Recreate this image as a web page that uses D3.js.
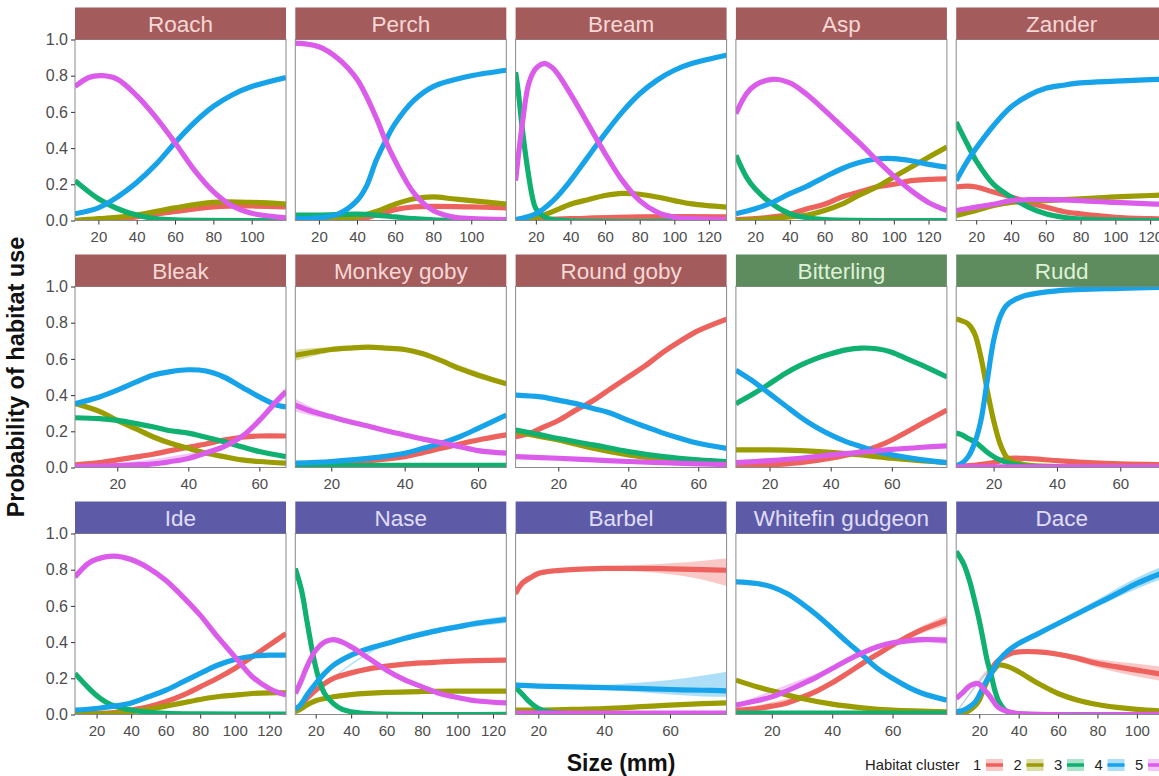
<!DOCTYPE html>
<html>
<head>
<meta charset="utf-8">
<script src="https://cdn.jsdelivr.net/npm/d3@7"></script>
<style>
  html, body { margin: 0; padding: 0; background: #fff; overflow: hidden; }
  svg { display: block; font-family: "Liberation Sans", Arial, Helvetica, sans-serif; }
</style>
</head>
<body>
<svg id="chart" width="1180" height="776"></svg>
<script>
// ---- Data: predicted probability of habitat use by body size ----
// Each species holds five curves (habitat clusters 1..5), each a list of [size mm, probability].

const speciesNames = ["Roach", "Perch", "Bream", "Asp", "Zander",
  "Bleak", "Monkey goby", "Round goby", "Bitterling", "Rudd",
  "Ide", "Nase", "Barbel", "Whitefin gudgeon", "Dace"];

// strip group of each species (1 = red, 2 = green, 3 = purple)
const speciesGroup = [1, 1, 1, 1, 1, 1, 1, 1, 2, 2, 3, 3, 3, 3, 3];

const sizeRanges = [
  [7.8, 117.9], [7.6, 118.4], [8.3, 130.2], [8.9, 130.6], [8.5, 129.8],
  [8.1, 67.5], [10.2, 67.7], [7.8, 68.1], [9, 78], [8.2, 74.8],
  [7.5, 129.7], [8.5, 127.5], [13.1, 77.2], [8.1, 78], [8.3, 115.4]
];

const sizeTicks = [
  [20, 40, 60, 80, 100], [20, 40, 60, 80, 100], [20, 40, 60, 80, 100, 120],
  [20, 40, 60, 80, 100, 120], [20, 40, 60, 80, 100, 120],
  [20, 40, 60], [20, 40, 60], [20, 40, 60], [20, 40, 60], [20, 40, 60],
  [20, 40, 60, 80, 100, 120], [20, 40, 60, 80, 100, 120],
  [20, 40, 60], [20, 40, 60], [20, 40, 60, 80, 100]
];

const probTicks = [0, 0.2, 0.4, 0.6, 0.8, 1.0];
const clusterLabels = ["1", "2", "3", "4", "5"];

const roach = [
  [[7.8,0],[20,0.005],[40,0.02],[60,0.05],[80,0.075],[100,0.08],[117.9,0.075]],
  [[7.8,0],[20,0.01],[40,0.03],[60,0.07],[80,0.1],[100,0.1],[117.9,0.09]],
  [[7.8,0.22],[20,0.12],[30,0.065],[40,0.03],[50,0.01],[60,0.003],[117.9,0]],
  [[7.8,0.037],[20,0.07],[30,0.13],[40,0.21],[50,0.31],[60,0.43],[70,0.54],[80,0.63],[90,0.695],[100,0.74],[117.9,0.79]],
  [[7.8,0.74],[15,0.79],[22,0.80],[30,0.78],[40,0.69],[50,0.57],[60,0.43],[70,0.28],[80,0.16],[90,0.08],[100,0.04],[117.9,0.015]]
];

const perch = [
  [[7.6,0],[40,0.005],[50,0.03],[60,0.06],[70,0.075],[80,0.078],[100,0.075],[118.4,0.07]],
  [[7.6,0],[30,0.005],[40,0.02],[50,0.05],[60,0.09],[70,0.12],[80,0.13],[90,0.12],[100,0.11],[118.4,0.09]],
  [[7.6,0.03],[20,0.03],[40,0.035],[50,0.03],[60,0.02],[70,0.01],[80,0.003],[118.4,0]],
  [[7.6,0.01],[20,0.015],[30,0.035],[40,0.11],[45,0.19],[50,0.33],[55,0.44],[60,0.535],[70,0.665],[80,0.74],[90,0.775],[100,0.80],[118.4,0.83]],
  [[7.6,0.98],[20,0.96],[30,0.895],[40,0.78],[50,0.57],[55,0.44],[60,0.33],[70,0.15],[80,0.055],[90,0.02],[100,0.01],[118.4,0.005]]
];

const bream = [
  [[8.3,0],[40,0.01],[80,0.02],[130.2,0.02]],
  [[8.3,0],[20,0.015],[30,0.05],[40,0.09],[50,0.115],[60,0.138],[70,0.15],[80,0.145],[90,0.13],[100,0.11],[110,0.092],[130.2,0.074]],
  [[8.3,0.82],[10,0.70],[12,0.52],[15,0.30],[18,0.13],[20,0.065],[25,0.02],[30,0.005],[130.2,0]],
  [[8.3,0.005],[20,0.037],[30,0.11],[40,0.22],[50,0.35],[60,0.48],[70,0.60],[80,0.70],[90,0.775],[100,0.83],[110,0.867],[130.2,0.913]],
  [[8.3,0.22],[12,0.52],[16,0.76],[20,0.84],[25,0.867],[30,0.84],[40,0.70],[50,0.535],[60,0.37],[70,0.22],[80,0.11],[90,0.046],[100,0.018],[110,0.01],[130.2,0.005]]
];

const asp = [
  [[8.9,0.005],[20,0.01],[30,0.02],[40,0.035],[50,0.065],[60,0.09],[70,0.13],[80,0.157],[90,0.185],[100,0.20],[110,0.22],[120,0.227],[130.6,0.23]],
  [[8.9,0],[20,0.005],[40,0.02],[50,0.03],[60,0.055],[70,0.09],[80,0.14],[90,0.185],[100,0.24],[110,0.295],[120,0.35],[130.6,0.406]],
  [[8.9,0.36],[15,0.24],[20,0.175],[30,0.09],[40,0.037],[50,0.015],[60,0.005],[130.6,0]],
  [[8.9,0.037],[20,0.065],[30,0.10],[40,0.148],[50,0.19],[60,0.24],[70,0.286],[80,0.32],[90,0.34],[100,0.342],[110,0.33],[120,0.31],[130.6,0.295]],
  [[8.9,0.59],[15,0.70],[20,0.747],[30,0.78],[40,0.76],[50,0.695],[60,0.61],[70,0.52],[80,0.43],[90,0.335],[100,0.245],[110,0.165],[120,0.10],[130.6,0.055]]
];

const zander = [
  [[8.5,0.185],[15,0.19],[20,0.185],[30,0.157],[40,0.13],[50,0.10],[60,0.074],[70,0.05],[80,0.037],[100,0.018],[120,0.01],[129.8,0.008]],
  [[8.5,0.028],[20,0.055],[30,0.083],[40,0.10],[60,0.11],[80,0.12],[100,0.13],[120,0.138],[129.8,0.142]],
  [[8.5,0.544],[15,0.42],[20,0.33],[30,0.20],[40,0.13],[50,0.074],[60,0.037],[70,0.018],[80,0.008],[100,0.002],[129.8,0]],
  [[8.5,0.22],[15,0.33],[20,0.40],[30,0.525],[40,0.627],[50,0.69],[60,0.73],[70,0.747],[80,0.76],[100,0.77],[120,0.778],[129.8,0.78]],
  [[8.5,0.055],[20,0.074],[30,0.09],[40,0.11],[50,0.115],[60,0.115],[80,0.11],[100,0.10],[120,0.092],[129.8,0.088]]
];

const bleak = [
  [[8.1,0.015],[15,0.027],[20,0.042],[25,0.057],[30,0.073],[35,0.093],[40,0.112],[45,0.13],[50,0.152],[55,0.167],[60,0.174],[67.5,0.174]],
  [[8.1,0.353],[15,0.31],[20,0.26],[25,0.216],[30,0.17],[35,0.134],[40,0.106],[45,0.08],[50,0.06],[55,0.042],[60,0.033],[67.5,0.024]],
  [[8.1,0.275],[15,0.27],[20,0.26],[25,0.244],[30,0.225],[35,0.203],[40,0.19],[45,0.167],[50,0.143],[55,0.115],[60,0.088],[67.5,0.06]],
  [[8.1,0.353],[15,0.39],[20,0.427],[25,0.47],[30,0.51],[35,0.53],[40,0.54],[45,0.533],[50,0.50],[55,0.445],[60,0.39],[65,0.344],[67.5,0.335]],
  [[8.1,0.005],[20,0.01],[30,0.02],[35,0.033],[40,0.05],[45,0.08],[50,0.115],[55,0.17],[60,0.26],[65,0.37],[67.5,0.42]]
];

const monkeyGoby = [
  [[10.2,0.015],[20,0.024],[30,0.037],[40,0.06],[45,0.082],[50,0.106],[55,0.13],[60,0.152],[67.7,0.18]],
  [[10.2,0.62],[15,0.637],[20,0.652],[25,0.66],[30,0.665],[35,0.66],[40,0.652],[45,0.628],[50,0.59],[55,0.546],[60,0.51],[67.7,0.463]],
  [[10.2,0.012],[67.7,0.012]],
  [[10.2,0.024],[20,0.033],[30,0.05],[40,0.079],[45,0.106],[50,0.134],[55,0.17],[60,0.216],[67.7,0.29]],
  [[10.2,0.344],[15,0.308],[20,0.28],[25,0.253],[30,0.229],[35,0.203],[40,0.18],[45,0.157],[50,0.137],[55,0.115],[60,0.093],[67.7,0.079]]
];

const roundGoby = [
  [[7.8,0.17],[12,0.19],[15,0.216],[20,0.26],[25,0.317],[30,0.37],[35,0.436],[40,0.50],[45,0.564],[50,0.637],[55,0.70],[60,0.756],[68.1,0.82]],
  [[7.8,0.198],[15,0.17],[20,0.152],[30,0.106],[40,0.07],[50,0.046],[60,0.033],[68.1,0.027]],
  [[7.8,0.207],[15,0.18],[20,0.16],[30,0.125],[40,0.088],[50,0.06],[60,0.042],[68.1,0.033]],
  [[7.8,0.40],[15,0.39],[20,0.372],[25,0.353],[30,0.326],[35,0.30],[40,0.26],[45,0.225],[50,0.19],[55,0.16],[60,0.134],[68.1,0.106]],
  [[7.8,0.06],[20,0.051],[30,0.042],[40,0.033],[50,0.027],[60,0.02],[68.1,0.016]]
];

const bitterling = [
  [[9,0.01],[20,0.015],[30,0.027],[40,0.051],[50,0.088],[55,0.115],[60,0.152],[65,0.198],[70,0.244],[78,0.317]],
  [[9,0.097],[20,0.097],[30,0.093],[40,0.084],[50,0.07],[60,0.051],[70,0.037],[78,0.027]],
  [[9,0.353],[15,0.41],[20,0.463],[25,0.518],[30,0.564],[35,0.60],[40,0.628],[45,0.65],[50,0.66],[55,0.656],[60,0.637],[65,0.60],[70,0.564],[78,0.50]],
  [[9,0.537],[15,0.472],[20,0.408],[25,0.344],[30,0.28],[35,0.225],[40,0.18],[45,0.143],[50,0.115],[55,0.088],[60,0.07],[70,0.042],[78,0.027]],
  [[9,0.027],[20,0.038],[30,0.051],[40,0.07],[50,0.084],[60,0.10],[70,0.112],[78,0.12]]
];

const rudd = [
  [[8.2,0.005],[15,0.015],[20,0.027],[25,0.05],[30,0.05],[40,0.038],[50,0.027],[60,0.02],[74.8,0.016]],
  [[8.2,0.82],[10,0.81],[12,0.793],[14,0.74],[16,0.61],[18,0.427],[20,0.26],[22,0.134],[24,0.06],[26,0.033],[30,0.015],[40,0.005],[74.8,0.002]],
  [[8.2,0.19],[10,0.18],[12,0.16],[14,0.143],[16,0.115],[18,0.084],[20,0.06],[22,0.042],[25,0.024],[30,0.008],[40,0.002],[74.8,0]],
  [[8.2,0.01],[10,0.024],[12,0.06],[14,0.134],[16,0.26],[18,0.48],[20,0.70],[22,0.83],[24,0.894],[26,0.92],[30,0.95],[40,0.976],[60,0.99],[74.8,0.995]],
  [[8.2,0.003],[74.8,0.003]]
];

const ide = [
  [[7.5,0.005],[30,0.011],[40,0.024],[50,0.042],[60,0.07],[70,0.107],[80,0.153],[90,0.2],[100,0.254],[110,0.318],[120,0.383],[129.7,0.447]],
  [[7.5,0.002],[30,0.006],[40,0.015],[50,0.028],[60,0.046],[70,0.064],[80,0.083],[90,0.098],[100,0.107],[110,0.116],[120,0.12],[129.7,0.12]],
  [[7.5,0.227],[15,0.15],[20,0.105],[25,0.07],[30,0.048],[40,0.025],[50,0.012],[60,0.006],[80,0.003],[129.7,0.002]],
  [[7.5,0.024],[20,0.033],[30,0.046],[40,0.064],[50,0.098],[60,0.134],[70,0.18],[80,0.227],[90,0.272],[100,0.304],[110,0.322],[120,0.328],[129.7,0.328]],
  [[7.5,0.76],[15,0.834],[20,0.858],[30,0.875],[40,0.856],[50,0.81],[60,0.742],[70,0.65],[80,0.549],[90,0.43],[100,0.32],[110,0.21],[120,0.144],[129.7,0.107]]
];

const nase = [
  [[8.5,0.024],[12,0.052],[15,0.088],[20,0.134],[25,0.171],[30,0.2],[40,0.23],[50,0.252],[60,0.267],[70,0.278],[80,0.285],[90,0.29],[100,0.295],[127.5,0.30]],
  [[8.5,0.015],[12,0.033],[15,0.052],[20,0.076],[25,0.088],[30,0.098],[40,0.11],[60,0.122],[80,0.127],[100,0.129],[127.5,0.129]],
  [[8.5,0.807],[12,0.687],[15,0.52],[18,0.355],[20,0.263],[22,0.19],[25,0.116],[30,0.06],[35,0.028],[40,0.015],[50,0.005],[127.5,0.001]],
  [[8.5,0.028],[12,0.06],[15,0.107],[20,0.171],[25,0.227],[30,0.272],[40,0.328],[50,0.365],[60,0.392],[70,0.42],[80,0.444],[90,0.466],[100,0.484],[110,0.503],[127.5,0.525]],
  [[8.5,0.116],[12,0.19],[15,0.263],[20,0.355],[25,0.40],[30,0.414],[35,0.40],[40,0.374],[50,0.31],[60,0.245],[70,0.193],[80,0.153],[90,0.116],[100,0.094],[110,0.076],[127.5,0.064]]
];

const barbel = [
  [[13.1,0.668],[15,0.724],[18,0.76],[20,0.779],[25,0.794],[30,0.80],[40,0.807],[50,0.807],[60,0.805],[70,0.80],[77.2,0.797]],
  [[13.1,0.024],[20,0.024],[30,0.028],[40,0.033],[50,0.042],[60,0.052],[70,0.06],[77.2,0.064]],
  [[13.1,0.15],[15,0.115],[17,0.075],[19,0.045],[21,0.025],[25,0.01],[30,0.004],[77.2,0.001]],
  [[13.1,0.162],[20,0.157],[30,0.153],[40,0.149],[50,0.144],[60,0.138],[70,0.134],[77.2,0.131]],
  [[13.1,0.008],[77.2,0.008]]
];

const whitefinGudgeon = [
  [[8.1,0.024],[15,0.033],[20,0.046],[25,0.064],[30,0.094],[35,0.131],[40,0.175],[45,0.227],[50,0.282],[55,0.333],[60,0.383],[65,0.43],[70,0.47],[78,0.52]],
  [[8.1,0.19],[15,0.153],[20,0.131],[30,0.088],[40,0.057],[50,0.037],[60,0.024],[78,0.015]],
  [[8.1,0.008],[78,0.008]],
  [[8.1,0.733],[15,0.724],[20,0.705],[25,0.668],[30,0.613],[35,0.549],[40,0.475],[45,0.40],[50,0.328],[55,0.254],[60,0.2],[65,0.153],[70,0.116],[78,0.079]],
  [[8.1,0.052],[15,0.076],[20,0.098],[25,0.131],[30,0.168],[35,0.208],[40,0.254],[45,0.30],[50,0.34],[55,0.374],[60,0.396],[65,0.407],[70,0.414],[78,0.41]]
];

const dace = [
  [[8.3,0.005],[12,0.01],[15,0.025],[18,0.055],[20,0.09],[22,0.14],[24,0.19],[26,0.24],[28,0.28],[30,0.30],[35,0.333],[40,0.346],[50,0.346],[60,0.333],[70,0.31],[80,0.282],[90,0.263],[100,0.245],[110,0.227],[115.4,0.217]],
  [[8.3,0.006],[12,0.01],[15,0.024],[18,0.05],[20,0.079],[22,0.134],[25,0.208],[28,0.254],[30,0.273],[35,0.263],[40,0.236],[50,0.171],[60,0.116],[70,0.079],[80,0.055],[90,0.039],[100,0.028],[115.4,0.018]],
  [[8.3,0.90],[12,0.834],[15,0.742],[18,0.613],[20,0.52],[22,0.41],[24,0.30],[26,0.22],[28,0.13],[30,0.07],[33,0.025],[36,0.01],[40,0.004],[115.4,0]],
  [[8.3,0.015],[12,0.024],[15,0.042],[18,0.07],[20,0.107],[22,0.153],[25,0.208],[28,0.263],[30,0.30],[35,0.355],[40,0.392],[50,0.447],[60,0.503],[70,0.558],[80,0.613],[90,0.668],[100,0.724],[110,0.77],[115.4,0.794]],
  [[8.3,0.088],[12,0.125],[15,0.157],[18,0.171],[20,0.168],[22,0.144],[25,0.107],[28,0.06],[30,0.037],[35,0.015],[40,0.005],[115.4,0.001]]
];

const speciesCurves = [roach, perch, bream, asp, zander, bleak, monkeyGoby, roundGoby,
  bitterling, rudd, ide, nase, barbel, whitefinGudgeon, dace];

// Confidence bands that are wide enough to show: [size, lower, upper]
const monkeyGobyBand2 = [[10.2,0.59,0.65],[15,0.615,0.66],[20,0.638,0.666],[30,0.655,0.675],[40,0.644,0.66],[50,0.582,0.598],[67.7,0.453,0.473]];
const monkeyGobyBand5 = [[10.2,0.31,0.38],[15,0.285,0.33],[20,0.265,0.295],[30,0.22,0.238],[40,0.173,0.187],[50,0.131,0.143],[67.7,0.073,0.085]];
const barbelBand1 = [[13.1,0.65,0.685],[20,0.77,0.79],[30,0.79,0.81],[40,0.795,0.82],[50,0.79,0.825],[60,0.775,0.835],[70,0.745,0.85],[77.2,0.71,0.862]];
const barbelBand4 = [[13.1,0.15,0.175],[20,0.15,0.165],[40,0.135,0.165],[50,0.125,0.175],[60,0.11,0.19],[70,0.10,0.215],[77.2,0.098,0.236]];
const whitefinBand1 = [[8.1,0.02,0.028],[40,0.168,0.182],[60,0.37,0.396],[70,0.45,0.49],[78,0.49,0.55]];
const whitefinBand5 = [[8.1,0.046,0.058],[40,0.246,0.262],[60,0.385,0.407],[70,0.398,0.43],[78,0.39,0.43]];
const naseBand4 = [[8.5,0.024,0.032],[60,0.385,0.399],[100,0.47,0.50],[127.5,0.505,0.545]];
const daceBand1 = [[8.3,0.003,0.007],[30,0.292,0.308],[40,0.34,0.352],[60,0.32,0.345],[80,0.26,0.305],[100,0.21,0.28],[115.4,0.18,0.26]];
const daceBand4 = [[8.3,0.012,0.018],[30,0.293,0.307],[40,0.385,0.4],[60,0.49,0.515],[80,0.595,0.635],[100,0.695,0.755],[115.4,0.76,0.83]];
const bleakBand5 = [[8.1,0.003,0.007],[50,0.105,0.125],[60,0.245,0.275],[67.5,0.395,0.445]];

const bands = [
  { species: 6, cluster: 1, band: monkeyGobyBand2 },
  { species: 6, cluster: 4, band: monkeyGobyBand5 },
  { species: 12, cluster: 0, band: barbelBand1 },
  { species: 12, cluster: 3, band: barbelBand4 },
  { species: 13, cluster: 0, band: whitefinBand1 },
  { species: 13, cluster: 4, band: whitefinBand5 },
  { species: 11, cluster: 3, band: naseBand4 },
  { species: 14, cluster: 0, band: daceBand1 },
  { species: 14, cluster: 3, band: daceBand4 },
  { species: 5, cluster: 4, band: bleakBand5 }
];

// ---- Styling ----
const clusterColors = ["#EE625E", "#9A9C00", "#10B070", "#16A3EA", "#DB5CEA"];
const stripFill = { 1: "#A45B5B", 2: "#5F8C5F", 3: "#5D5BA8" };
const stripText = { 1: "#F7D8D6", 2: "#DDF2D6", 3: "#E0DEFA" };

const panelLeft0 = 75, colStep = 220.3, panelW = 211;
const panelTop0 = 39.5, rowStep = 247, panelH = 181, stripH = 32;

const svg = d3.select("#chart");
const defs = svg.append("defs");
const smooth = d3.curveCatmullRom.alpha(0.5);

speciesNames.forEach((name, i) => {
  const col = i % 5, row = Math.floor(i / 5);
  const x0 = panelLeft0 + col * colStep;
  const y0 = panelTop0 + row * rowStep;

  const x = d3.scaleLinear().domain(sizeRanges[i]).range([0, panelW]);
  const y = d3.scaleLinear().domain([0, 1]).range([panelH, 0]);

  const g = svg.append("g").attr("transform", `translate(${x0},${y0})`);

  defs.append("clipPath").attr("id", "clip" + i)
    .append("rect").attr("width", panelW).attr("height", panelH);

  g.append("rect").attr("width", panelW).attr("height", panelH).attr("fill", "#fff");

  const plot = g.append("g").attr("clip-path", `url(#clip${i})`);

  // ribbons
  bands.filter(b => b.species === i).forEach(b => {
    const area = d3.area()
      .x(d => x(d[0])).y0(d => y(d[1])).y1(d => y(d[2]))
      .curve(d3.curveMonotoneX);
    plot.append("path").datum(b.band)
      .attr("d", area)
      .attr("fill", clusterColors[b.cluster])
      .attr("fill-opacity", 0.35);
  });

  // lines, cluster 1 first
  const line = d3.line().x(d => x(d[0])).y(d => y(d[1])).curve(smooth);
  speciesCurves[i].forEach((pts, c) => {
    plot.append("path").datum(pts)
      .attr("d", line)
      .attr("fill", "none")
      .attr("stroke", clusterColors[c])
      .attr("stroke-width", 5.2)
      .attr("stroke-linecap", "butt")
      .attr("stroke-linejoin", "round");
  });

  g.append("rect").attr("width", panelW).attr("height", panelH)
    .attr("fill", "none").attr("stroke", "#8a8a8a").attr("stroke-width", 1);

  // strip
  const grp = speciesGroup[i];
  g.append("rect").attr("x", 0).attr("y", -stripH).attr("width", panelW).attr("height", stripH)
    .attr("fill", stripFill[grp]);
  g.append("text").attr("x", panelW / 2).attr("y", -stripH / 2)
    .attr("dy", "0.36em").attr("text-anchor", "middle")
    .attr("font-size", 22.5).attr("fill", stripText[grp])
    .text(name);

  // x axis
  const xAxis = g.append("g").attr("transform", `translate(0,${panelH})`)
    .call(d3.axisBottom(x).tickValues(sizeTicks[i]).tickSize(4).tickPadding(7).tickFormat(d3.format("d")));
  xAxis.select(".domain").remove();
  xAxis.selectAll(".tick line").attr("stroke", "#333");
  xAxis.selectAll(".tick text").attr("fill", "#4d4d4d").attr("font-size", 15)
    .attr("font-family", "'Liberation Sans', Arial, sans-serif");

  // y axis on first column
  if (col === 0) {
    const yAxis = g.append("g")
      .call(d3.axisLeft(y).tickValues(probTicks).tickSize(4).tickPadding(3).tickFormat(d3.format(".1f")));
    yAxis.select(".domain").remove();
    yAxis.selectAll(".tick line").attr("stroke", "#333");
    yAxis.selectAll(".tick text").attr("fill", "#4d4d4d").attr("font-size", 16)
      .attr("font-family", "'Liberation Sans', Arial, sans-serif");
  }
});

// axis titles
svg.append("text")
  .attr("transform", `translate(24,${panelTop0 + (2 * rowStep + panelH) / 2}) rotate(-90)`)
  .attr("text-anchor", "middle")
  .attr("font-size", 23.5).attr("font-weight", "bold").attr("fill", "#111")
  .text("Probability of habitat use");

svg.append("text")
  .attr("x", panelLeft0 + (4 * colStep + panelW) / 2).attr("y", 771)
  .attr("text-anchor", "middle")
  .attr("font-size", 23).attr("font-weight", "bold").attr("fill", "#111")
  .text("Size (mm)");

// legend
const legend = svg.append("g").attr("transform", "translate(865,765)");
legend.append("text").attr("x", 0).attr("y", 0).attr("dy", "0.35em")
  .attr("font-size", 14.8).attr("fill", "#222").text("Habitat cluster");
clusterLabels.forEach((lab, k) => {
  const lx = 108 + k * 40.5;
  legend.append("text").attr("x", lx).attr("y", 0).attr("dy", "0.35em")
    .attr("font-size", 14.8).attr("fill", "#222").text(lab);
  legend.append("rect").attr("x", lx + 13).attr("y", -6).attr("width", 17).attr("height", 12)
    .attr("fill", clusterColors[k]).attr("fill-opacity", 0.35);
  legend.append("line").attr("x1", lx + 13).attr("x2", lx + 30).attr("y1", 0).attr("y2", 0)
    .attr("stroke", clusterColors[k]).attr("stroke-width", 3.5);
});
</script>
</body>
</html>
